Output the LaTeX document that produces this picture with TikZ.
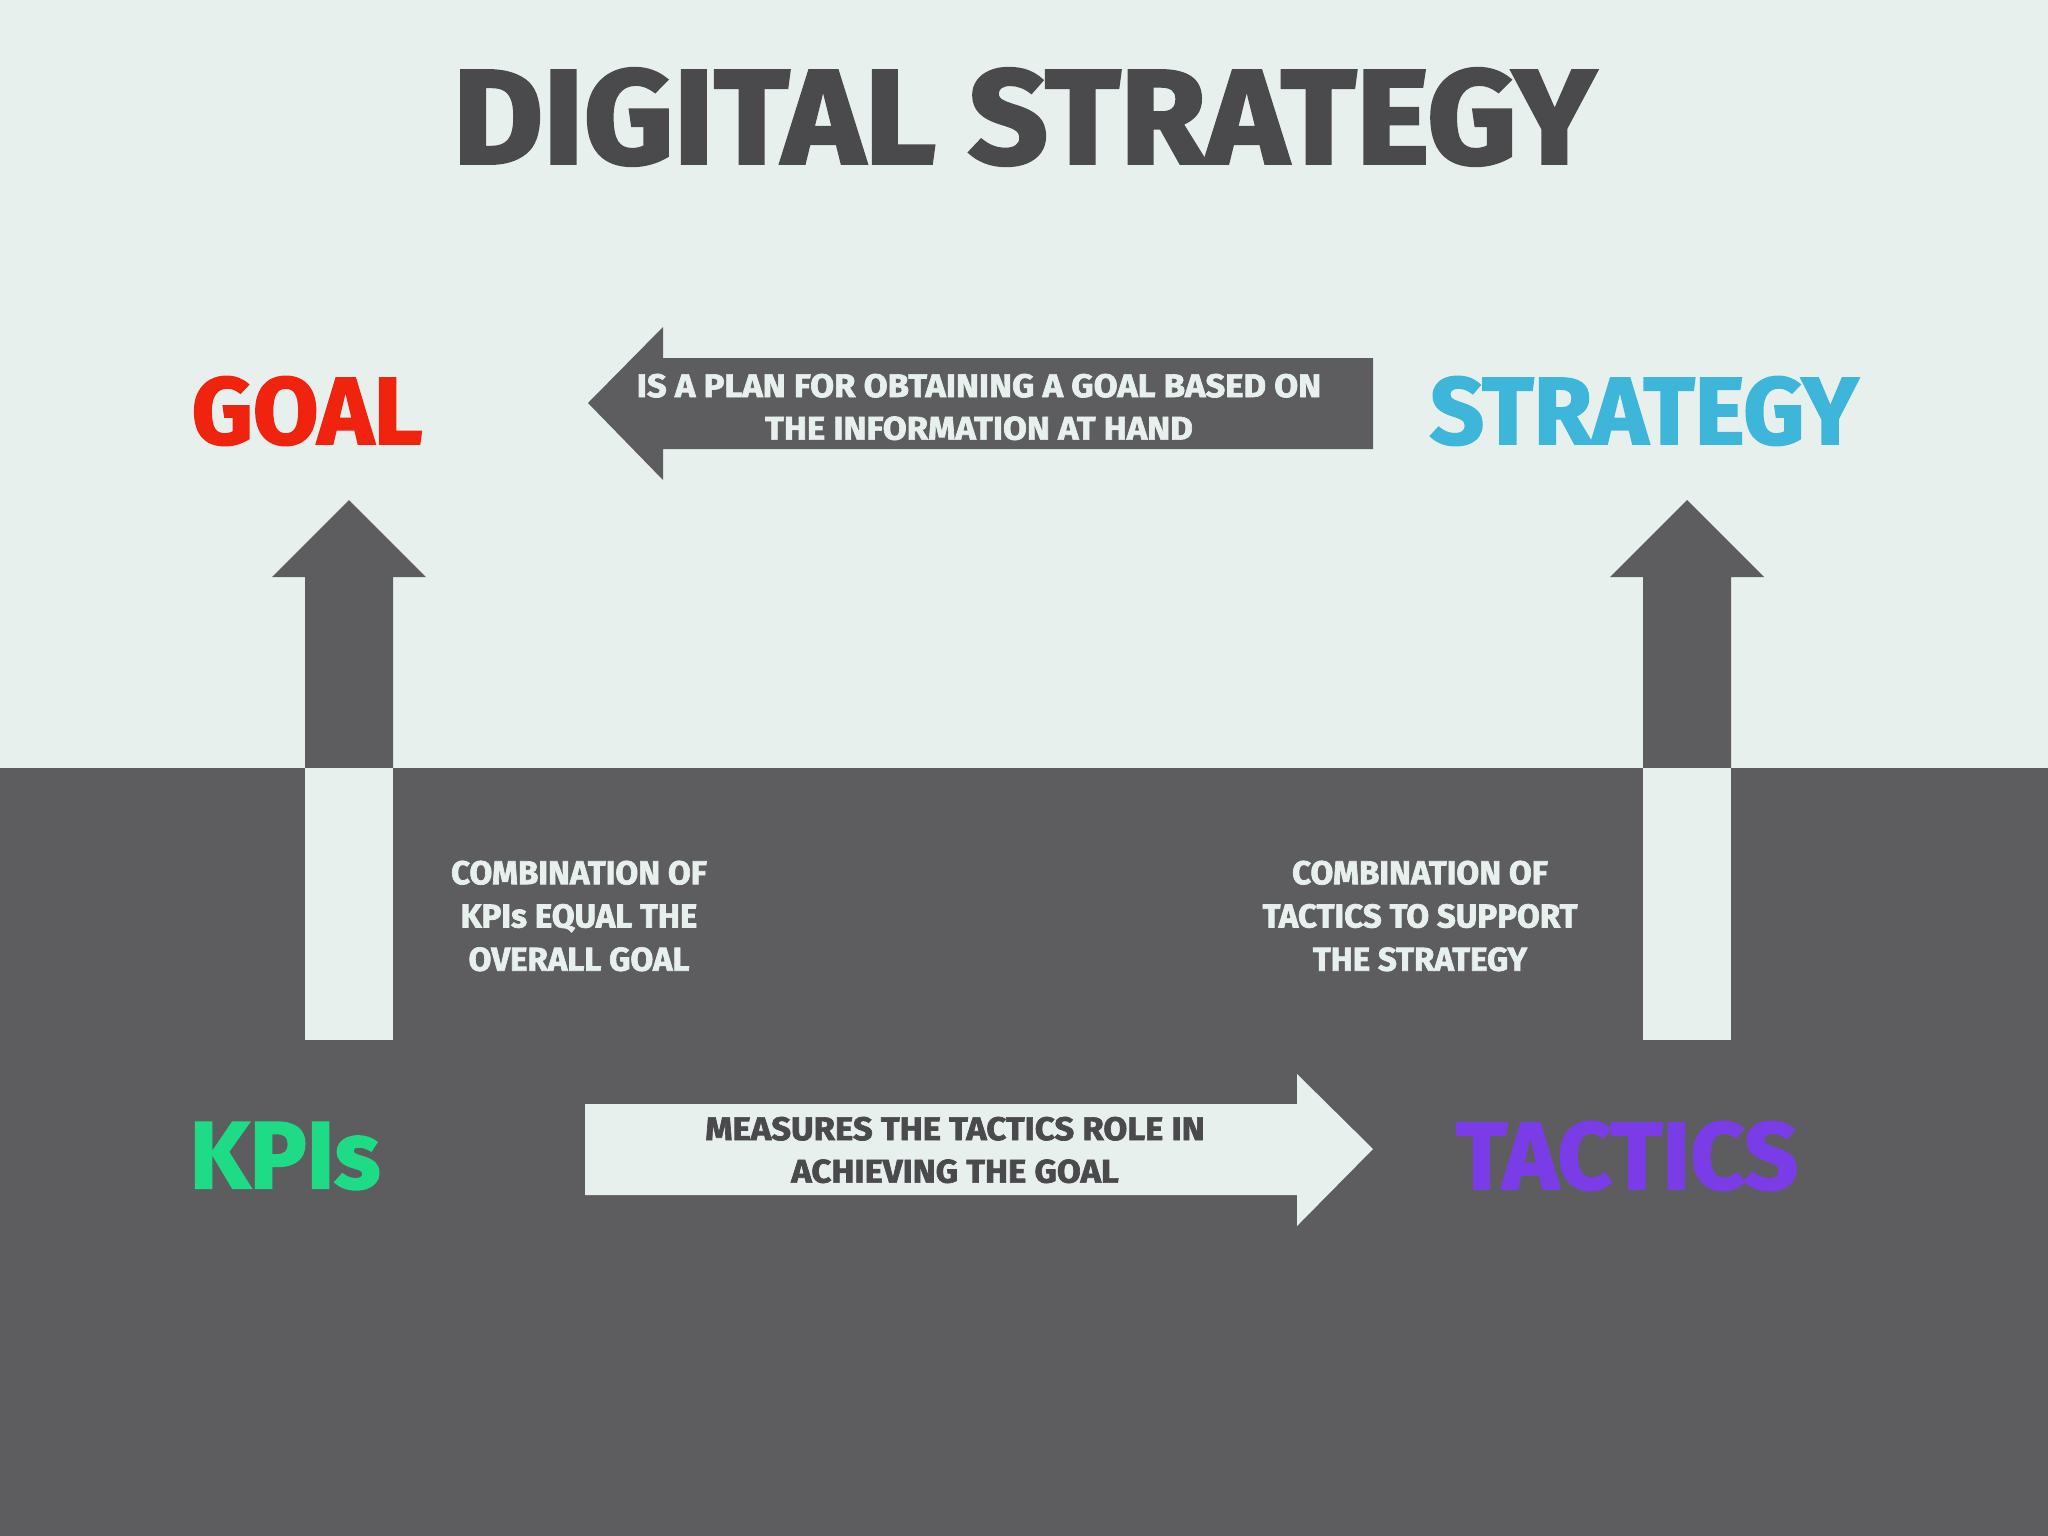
\documentclass[tikz,border=0pt]{standalone}
\usepackage{fontspec}
\setmainfont{Fira Sans}
\newfontfamily\heavyfont{Fira Sans}[FakeBold=2]
\newfontfamily\blurbfont{Fira Sans}[FakeBold=2, FakeStretch=1.06]
\newfontfamily\widefont{Fira Sans}[FakeBold=2.4, FakeStretch=1.04]
\definecolor{PaleBg}{HTML}{E8F0EE}
\definecolor{SlateGray}{HTML}{5D5D5F}
\definecolor{InkGray}{HTML}{4A4A4C}
\definecolor{GoalRed}{HTML}{F0230F}
\definecolor{StrategyBlue}{HTML}{3DB6D9}
\definecolor{KpiGreen}{HTML}{1EDC86}
\definecolor{TacticPurple}{HTML}{7A3CE6}

\begin{document}
\begin{tikzpicture}[x=0.01cm, y=-0.01cm,
    word/.style={font=\heavyfont\bfseries\fontsize{27}{30}\selectfont, inner sep=0pt},
    blurb/.style={font=\blurbfont\bfseries\fontsize{9.3}{12.1}\selectfont, align=center, inner sep=0pt},
    remark/.style={font=\heavyfont\bfseries\fontsize{9.4}{12.3}\selectfont, align=center, inner sep=0pt, text=PaleBg}]

    % light top half, dark bottom half
    \fill[PaleBg] (0,0) rectangle (2048,768);
    \fill[SlateGray] (0,768) rectangle (2048,1536);

    \node[font=\widefont\bfseries\fontsize{38}{40}\selectfont, text=InkGray, inner sep=0pt] (title) at (1024,117) {DIGITAL STRATEGY};

    \node[word, text=GoalRed] (goal) at (307,411) {GOAL};
    \node[word, text=StrategyBlue] (strategy) at (1644,411) {STRATEGY};
    \node[word, text=KpiGreen] (kpis) at (285,1156) {KPIs};
    \node[word, text=TacticPurple] (tactics) at (1627,1156) {TACTICS};

    % up arrows, shaft turns light below the split
    \foreach \cx in {349,1687} {
        \fill[SlateGray] (\cx-44,1040) -- (\cx-44,577) -- (\cx-77,577) -- (\cx,500)
            -- (\cx+77,577) -- (\cx+44,577) -- (\cx+44,1040) -- cycle;
        \fill[PaleBg] (\cx-44,768) rectangle (\cx+44,1040);
    }

    % strategy -> goal
    \fill[SlateGray] (1373,358) -- (663,358) -- (663,327) -- (588,403) -- (663,480)
        -- (663,449) -- (1373,449) -- cycle;
    \node[blurb, text=PaleBg] (plan) at (979,407) {IS A PLAN FOR OBTAINING A GOAL BASED ON\\THE INFORMATION AT HAND};

    % kpis -> tactics
    \fill[PaleBg] (585,1104) -- (1297,1104) -- (1297,1074) -- (1373,1149) -- (1297,1226)
        -- (1297,1195) -- (585,1195) -- cycle;
    \node[blurb, text=InkGray] (measure) at (955,1150) {MEASURES THE TACTICS ROLE IN\\ACHIEVING THE GOAL};

    \node[remark] (kpinote) at (579,916) {COMBINATION OF\\KPIs EQUAL THE\\OVERALL GOAL};
    \node[remark] (tacticnote) at (1420,916) {COMBINATION OF\\TACTICS TO SUPPORT\\THE STRATEGY};

\end{tikzpicture}
\end{document}
